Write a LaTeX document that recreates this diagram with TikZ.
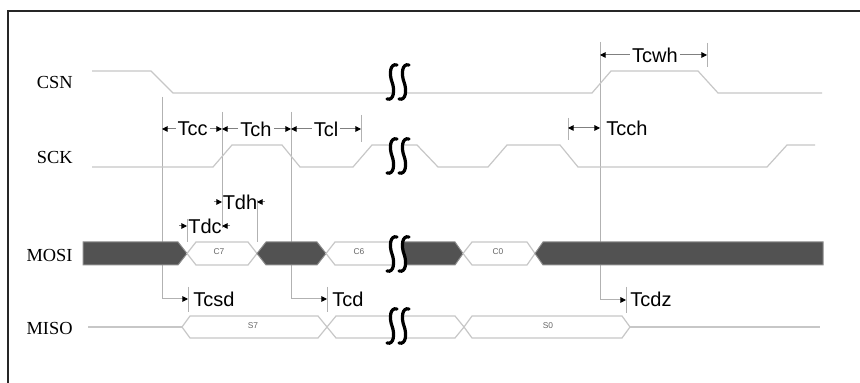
\documentclass[tikz,border=0pt]{standalone}
\usepackage{fontspec}
\setmainfont{Liberation Serif}
\setsansfont{Liberation Sans}
\usetikzlibrary{arrows.meta}
\newcommand\brkmark[2]{%
  \begin{scope}[shift={(398,#1)}]
    \fill[white] (-1,-17) .. controls (-8,-19) and (-9,-8) .. (-6,0) .. controls (-3,8) and (-4,19) .. (-11,17)
      -- (1,17) .. controls (8,19) and (9,8) .. (6,0) .. controls (3,-8) and (4,-19) .. (11,-17) -- cycle;
    \draw[brk] (-1,-17) .. controls (-8,-19) and (-9,-8) .. (-6,0) .. controls (-3,8) and (-4,19) .. (-11,17);
    \draw[brk] (11,-17) .. controls (4,-19) and (3,-8) .. (6,0) .. controls (9,8) and (8,19) .. (1,17);
    \coordinate (#2) at (0,0);
  \end{scope}}
\begin{document}
\begin{tikzpicture}[x=0.5pt,y=-0.5pt,
  sig/.style={draw=black!22,line width=0.6pt},
  bus/.style={draw=black!22,fill=white,line width=0.6pt},
  busd/.style={draw=black!45,fill=black!68,line width=0.5pt},
  guide/.style={draw=black!30,line width=0.5pt},
  dimline/.style={draw=black!50,line width=0.5pt},
  tl/.style={font=\sffamily\fontsize{10}{12}\selectfont,inner sep=1pt},
  sl/.style={font=\fontsize{9.2}{11}\selectfont,anchor=east,inner sep=0pt},
  hl/.style={font=\sffamily\fontsize{4.2}{5}\selectfont,text=black!60,inner sep=0pt},
  brk/.style={line width=1.6pt,line cap=round},
  >={Triangle[length=2.8pt,width=2.8pt,color=black]}
]
\useasboundingbox (0,0) rectangle (860,383);
\fill[white] (0,0) rectangle (860,383);
% frame
\draw[line width=1pt,black!85] (8,390) -- (8,11) -- (870,11);

% signal names
\node[sl] (ncsn) at (73,83) {CSN};
\node[sl] (nsck) at (73,157.5) {SCK};
\node[sl] (nmosi) at (73,256) {MOSI};
\node[sl] (nmiso) at (73,328.5) {MISO};

% guide lines
\draw[guide] (162,97) -- (162,299);
\draw[guide,->] (162,299) -- (188,299);
\draw[guide] (188,287) -- (188,312);
\draw[guide] (222,112) -- (222,228);
\draw[guide] (187,219) -- (187,242);
\draw[guide] (257,200) -- (257,242);
\draw[guide] (291,112) -- (291,299);
\draw[guide,->] (291,299) -- (327,299);
\draw[guide] (327,287) -- (327,312);
\draw[guide] (361,115) -- (361,142);
\draw[guide] (600,42) -- (600,300);
\draw[guide,->] (600,300) -- (626,300);
\draw[guide] (626,287) -- (626,313);
\draw[guide] (707,43) -- (707,67);
\draw[guide] (568,118) -- (568,140);

% CSN
\draw[sig] (92,71) -- (151,71) -- (173,93) -- (592,93) -- (611,71) -- (698,71) -- (718,93) -- (822,93);
% SCK
\draw[sig] (92,167) -- (213,167) -- (232,145) -- (282,145) -- (300,167) -- (353,167) -- (372,145)
  -- (417,145) -- (438,167) -- (488,167) -- (507,145) -- (560,145) -- (578,167) -- (767,167)
  -- (787,145) -- (815,145);
% MOSI
\path[busd] (83,242) -- (178,242) -- (187,253.5) -- (178,265) -- (83,265) -- cycle;
\path[bus] (187,253.5) -- (196,242) -- (248,242) -- (257,253.5) -- (248,265) -- (196,265) -- cycle;
\path[busd] (257,253.5) -- (266,242) -- (317,242) -- (326,253.5) -- (317,265) -- (266,265) -- cycle;
\path[bus] (326,253.5) -- (335,242) -- (398,242) -- (398,265) -- (335,265) -- cycle;
\path[busd] (400,242) -- (455,242) -- (463,253.5) -- (455,265) -- (400,265) -- cycle;
\path[bus] (463,253.5) -- (472,242) -- (527,242) -- (535,253.5) -- (527,265) -- (472,265) -- cycle;
\path[busd] (535,253.5) -- (543,242) -- (823,242) -- (823,265) -- (543,265) -- cycle;
\node[hl] (c7) at (219,252) {C7};
\node[hl] (c6) at (359,252) {C6};
\node[hl] (c0) at (498,252) {C0};
% MISO
\draw[sig] (88,327) -- (182,327);
\path[bus] (182,327) -- (190,316) -- (318,316) -- (327,327) -- (318,338) -- (190,338) -- cycle;
\path[bus] (327,327) -- (336,316) -- (398,316) -- (398,338) -- (336,338) -- cycle;
\path[bus] (400,316) -- (455,316) -- (464,327) -- (455,338) -- (400,338) -- cycle;
\path[bus] (464,327) -- (472,316) -- (622,316) -- (630,327) -- (622,338) -- (472,338) -- cycle;
\draw[sig] (630,327) -- (820,327);
\node[hl] (s7) at (253,325.5) {S7};
\node[hl] (s0) at (548,325.5) {S0};

% breaks
\brkmark{82}{b1}
\brkmark{156}{b2}
\brkmark{254}{b3}
\brkmark{326}{b4}

% dimensions
\draw[dimline,<->] (162,129) -- (222,129);
\draw[dimline,<->] (222,129) -- (291,129);
\draw[dimline,<->] (291,129) -- (361,129);
\node[tl,fill=white] (tcc) at (192.5,129) {Tcc};
\node[tl,fill=white] (tch) at (256,129) {Tch};
\node[tl,fill=white] (tcl) at (326,129) {Tcl};

\draw[dimline,<->] (600,55) -- (707,55);
\node[tl,fill=white] (tcwh) at (655,55) {Tcwh};

\draw[dimline,<->] (568,128) -- (600,128);
\node[tl,anchor=west] (tcch) at (604,128) {Tcch};

\draw[dimline,->] (214,202) -- (222,202);
\draw[dimline,->] (265,202) -- (257,202);
\node[tl] (tdh) at (240,202) {Tdh};

\draw[dimline,->] (179,226) -- (187,226);
\draw[dimline,->] (230,226) -- (222,226);
\node[tl] (tdc) at (205,226) {Tdc};

\node[tl,anchor=west] (tcsd) at (191,299) {Tcsd};
\node[tl,anchor=west] (tcd) at (330,299) {Tcd};
\node[tl,anchor=west] (tcdz) at (628,299.5) {Tcdz};
\end{tikzpicture}
\end{document}
